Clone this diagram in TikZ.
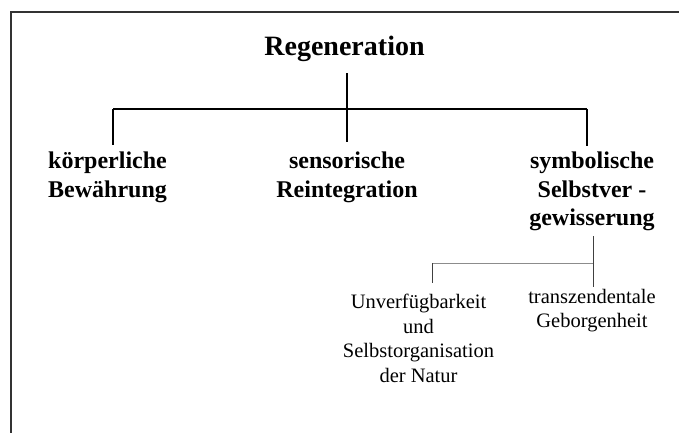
\documentclass[tikz,border=0pt]{standalone}
\usepackage{fontspec}
\setmainfont{Liberation Serif}
\usetikzlibrary{calc}
\begin{document}
\begin{tikzpicture}[x=1pt,y=-1pt,
  lvla/.style={font=\bfseries\fontsize{28}{34}\selectfont, inner sep=0pt},
  lvlb/.style={font=\bfseries\fontsize{24}{28.5}\selectfont, inner sep=0pt, align=center},
  lvlc/.style={font=\fontsize{20.5}{24.5}\selectfont, inner sep=0pt, align=center},
  frameline/.style={draw=black!80, line width=2pt},
  mainline/.style={draw=black, line width=1.2pt},
  subline/.style={draw=black!75, line width=0.6pt},
  subbus/.style={draw=black!45, line width=0.6pt}]
\useasboundingbox (0,0) rectangle (679,433);
\fill[white] (0,0) rectangle (679,433);
\draw[frameline] (11,434) -- (11,12) -- (680,12);

\node[lvla, anchor=base] (reg) at (344.5,56) {Regeneration};
\node[lvlb, anchor=north west, align=left] (koe) at (48,151.8) {körperliche\\Bewährung};
\node[lvlb, anchor=north] (sen) at (347,151.8) {sensorische\\Reintegration};
\node[lvlb, anchor=north] (sym) at (592,151.8) {symbolische\\Selbstver -\\gewisserung};
\node[lvlc, anchor=north] (unv) at (418.5,294) {Unverfügbarkeit\\und\\Selbstorganisation\\der Natur};
\node[lvlc, anchor=north] (tra) at (592,289) {transzendentale\\Geborgenheit};

\coordinate (jl) at (113,109);
\coordinate (jr) at (587,109);
\coordinate (jm) at (347,109);
\draw[mainline] ([yshift=-11pt]reg.south -| jm) -- ([yshift=10pt]sen.north -| jm);
\draw[mainline] (jl) -- (jr);
\draw[mainline] (jl) -- ($(jl |- koe.north)+(0,-7)$);
\draw[mainline] (jr) -- ($(jr |- sym.north)+(0,-6)$);

\coordinate (kl) at (432,263);
\coordinate (kr) at (593,263);
\draw[subline] ($(kr |- sym.south)+(0,5)$) -- ($(kr |- tra.north)+(0,-2)$);
\draw[subbus] (kl) -- (kr);
\draw[subline] (kl) -- ($(kl |- unv.north)+(0,-11)$);
\end{tikzpicture}
\end{document}
